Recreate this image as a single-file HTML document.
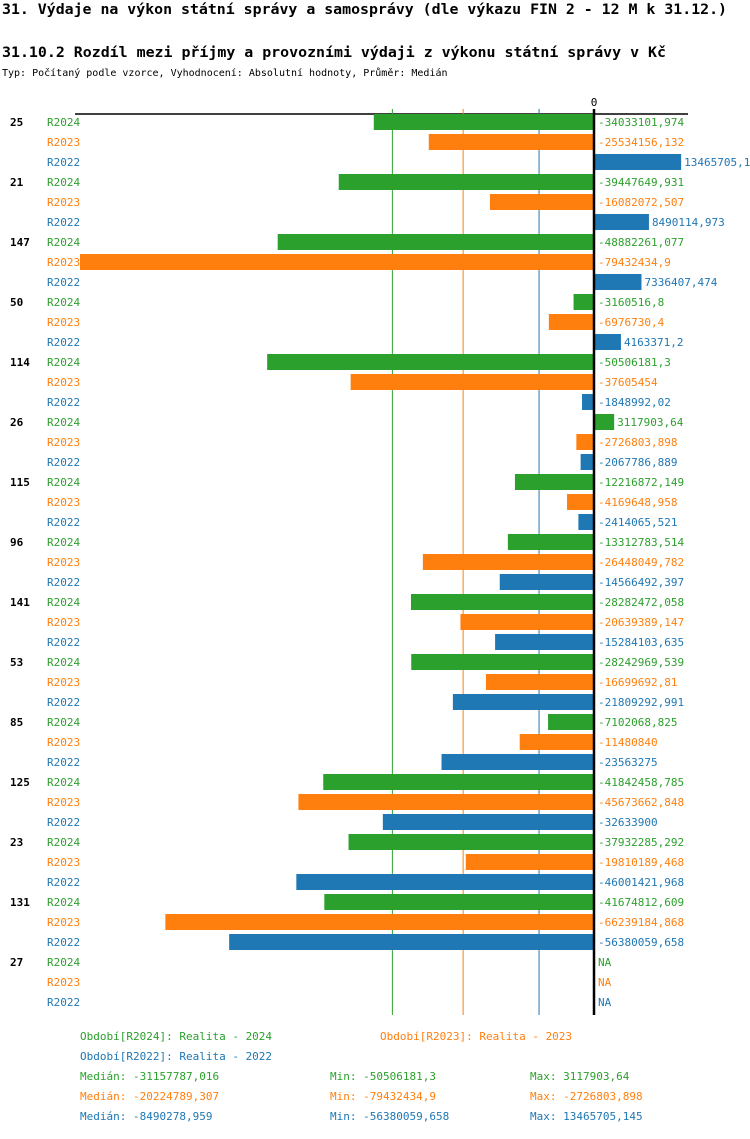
<!DOCTYPE html>
<html><head><meta charset="utf-8"><style>
body{margin:0;background:#fff;width:750px;height:1134px;overflow:hidden}
svg text{font-family:"DejaVu Sans Mono","Liberation Mono",monospace;font-size:11px}
</style></head><body>
<svg id="c" width="750" height="1134">
<text x="2" y="14" style="font-size:14px;font-weight:bold" textLength="725" lengthAdjust="spacingAndGlyphs">31. Výdaje na výkon státní správy a samosprávy (dle výkazu FIN 2 - 12 M k 31.12.)</text>
<text x="2" y="57" style="font-size:14px;font-weight:bold" textLength="664" lengthAdjust="spacingAndGlyphs">31.10.2 Rozdíl mezi příjmy a provozními výdaji z výkonu státní správy v Kč</text>
<text x="2" y="76" style="font-size:10px">Typ: Počítaný podle vzorce, Vyhodnocení: Absolutní hodnoty, Průměr: Medián</text>
<g id="plot"></g>
<g id="foot">
<text x="80" y="1040" fill="#2ca02c">Období[R2024]: Realita - 2024</text>
<text x="380" y="1040" fill="#ff7f0e">Období[R2023]: Realita - 2023</text>
<text x="80" y="1060" fill="#1f77b4">Období[R2022]: Realita - 2022</text>
<text x="80" y="1080" fill="#2ca02c">Medián: -31157787,016</text>
<text x="330" y="1080" fill="#2ca02c">Min: -50506181,3</text>
<text x="530" y="1080" fill="#2ca02c">Max: 3117903,64</text>
<text x="80" y="1100" fill="#ff7f0e">Medián: -20224789,307</text>
<text x="330" y="1100" fill="#ff7f0e">Min: -79432434,9</text>
<text x="530" y="1100" fill="#ff7f0e">Max: -2726803,898</text>
<text x="80" y="1120" fill="#1f77b4">Medián: -8490278,959</text>
<text x="330" y="1120" fill="#1f77b4">Min: -56380059,658</text>
<text x="530" y="1120" fill="#1f77b4">Max: 13465705,145</text>
</g>
</svg>
<script>
const categories=["25","21","147","50","114","26","115","96","141","53","85","125","23","131","27"];
const seriesNames=["R2024","R2023","R2022"];
const r2024=[-34033101.974,-39447649.931,-48882261.077,-3160516.8,-50506181.3,3117903.64,-12216872.149,-13312783.514,-28282472.058,-28242969.539,-7102068.825,-41842458.785,-37932285.292,-41674812.609,null];
const r2023=[-25534156.132,-16082072.507,-79432434.9,-6976730.4,-37605454,-2726803.898,-4169648.958,-26448049.782,-20639389.147,-16699692.81,-11480840,-45673662.848,-19810189.468,-66239184.868,null];
const r2022=[13465705.14,8490114.973,7336407.474,4163371.2,-1848992.02,-2067786.889,-2414065.521,-14566492.397,-15284103.635,-21809292.991,-23563275,-32633900,-46001421.968,-56380059.658,null];
const r2024Labels=["-34033101,974","-39447649,931","-48882261,077","-3160516,8","-50506181,3","3117903,64","-12216872,149","-13312783,514","-28282472,058","-28242969,539","-7102068,825","-41842458,785","-37932285,292","-41674812,609","NA"];
const r2023Labels=["-25534156,132","-16082072,507","-79432434,9","-6976730,4","-37605454","-2726803,898","-4169648,958","-26448049,782","-20639389,147","-16699692,81","-11480840","-45673662,848","-19810189,468","-66239184,868","NA"];
const r2022Labels=["13465705,14","8490114,973","7336407,474","4163371,2","-1848992,02","-2067786,889","-2414065,521","-14566492,397","-15284103,635","-21809292,991","-23563275","-32633900","-46001421,968","-56380059,658","NA"];
const medians=[-31157787.016,-20224789.307,-8490278.959];
const colors=["#2ca02c","#ff7f0e","#1f77b4"];
const NS="http://www.w3.org/2000/svg";
const x0=594, scale=514/79432434.9;
const xs=v=>x0+v*scale;
const y=(g,j)=>122+60*g+20*j;
const plot=document.getElementById('plot');
function mk(t,a){const e=document.createElementNS(NS,t);for(const k in a)e.setAttribute(k,a[k]);plot.appendChild(e);return e;}
let ax=mk('line',{x1:75,x2:688,y1:114,y2:114,stroke:'#000','stroke-width':1.5});


let zl=mk('text',{x:x0,y:106,'text-anchor':'middle','font-size':'10'});zl.textContent='0';


medians.forEach((m,i)=>{const l=mk('line',{x1:xs(m),x2:xs(m),y1:109,y2:1015,stroke:colors[i],'stroke-width':1});

});
const data=[r2024,r2023,r2022], labs=[r2024Labels,r2023Labels,r2022Labels];
categories.forEach((c,g)=>{
 const t=mk('text',{x:10,y:y(g,0)+4,'font-weight':'bold'});t.textContent=c;
 
 
 data.forEach((s,j)=>{
  const yy=y(g,j);
  const sl=mk('text',{x:47,y:yy+4,fill:colors[j],'font-size':'10'});sl.textContent=seriesNames[j];
  
  
  const v=s[g];let lx=x0+4;
  if(v!==null){const a=Math.min(xs(v),x0),b=Math.max(xs(v),x0);
   const r=mk('rect',{x:a,y:yy-8,width:b-a,height:16,fill:colors[j]});
   
   
   if(v>0)lx=b+3;}
  const vl=mk('text',{x:lx,y:yy+4,fill:colors[j],'font-size':'10.5'});vl.textContent=labs[j][g];
  
  
 });
});
let za=mk('line',{x1:x0,x2:x0,y1:109,y2:1015,stroke:'#000','stroke-width':2.5});


</script>
</body></html>
